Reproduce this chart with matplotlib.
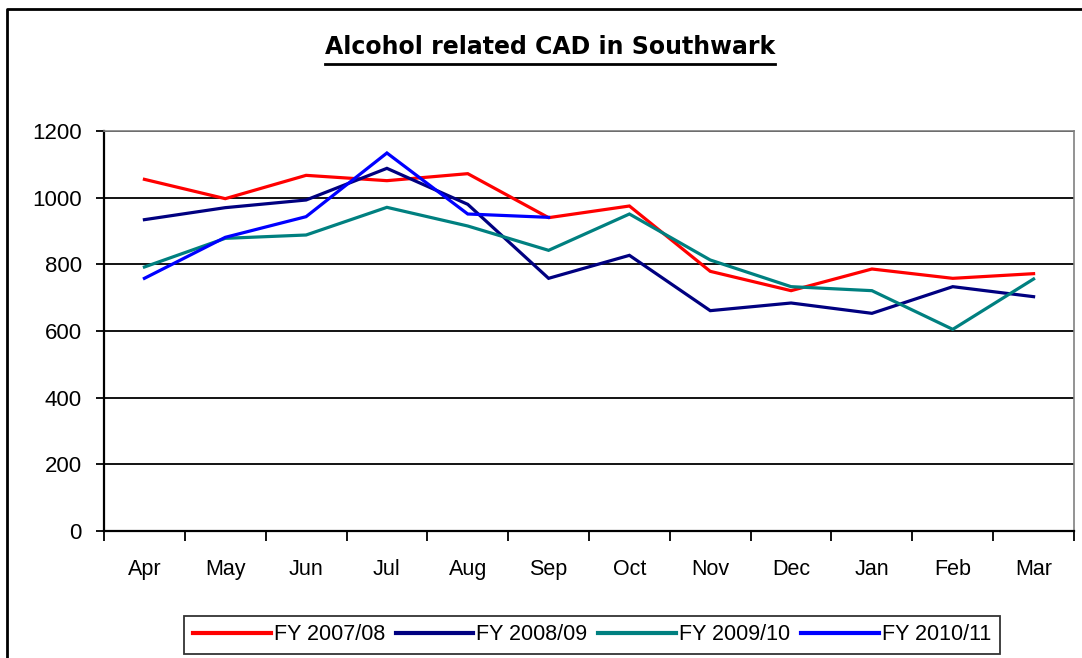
import numpy as np
import matplotlib.pyplot as plt
from matplotlib.lines import Line2D

months = ['Apr', 'May', 'Jun', 'Jul', 'Aug', 'Sep', 'Oct', 'Nov', 'Dec', 'Jan', 'Feb', 'Mar']
fy_0708 = [1055, 997, 1067, 1051, 1072, 940, 975, 779, 721, 786, 758, 772]
fy_0809 = [934, 970, 993, 1088, 980, 758, 827, 661, 684, 653, 733, 703]
fy_0910 = [792, 878, 888, 971, 915, 842, 951, 813, 733, 721, 605, 756]
fy_1011 = [758, 881, 943, 1134, 951, 941]
series = [('FY 2007/08', fy_0708, '#FF0000'),
          ('FY 2008/09', fy_0809, '#000080'),
          ('FY 2009/10', fy_0910, '#008080'),
          ('FY 2010/11', fy_1011, '#0000FF')]

plt.rcParams['font.family'] = ['Liberation Sans', 'DejaVu Sans']

W, H = 1082, 658
fig = plt.figure(figsize=(W / 100, H / 100), dpi=100)
fig.patch.set_facecolor('white')

# axes placed in pixel terms
left, right, top, bottom = 104, 1074, 131, 531
ax = fig.add_axes([left / W, 1 - bottom / H, (right - left) / W, (bottom - top) / H])

x = np.arange(len(months))
for name, vals, col in series:
    ax.plot(x[:len(vals)], vals, color=col, lw=2.3, label=name, solid_joinstyle='miter')

ax.set_ylim(0, 1200)
ax.set_xlim(-0.5, len(months) - 0.5)
ax.set_yticks(np.arange(0, 1201, 200))
ax.yaxis.grid(True, color='black', lw=1.3)
ax.set_axisbelow(True)

ax.set_xticks(x)
ax.set_xticklabels(months, fontsize=15.5)
ax.set_xticks(np.arange(-0.5, len(months)), minor=True)
ax.tick_params(axis='x', which='major', length=0, pad=20)
ax.tick_params(axis='x', which='minor', length=7, width=1.3, direction='out')
ax.tick_params(axis='y', length=6, width=1.3, labelsize=16, pad=10)

for s in ['left', 'bottom']:
    ax.spines[s].set_color('black')
    ax.spines[s].set_linewidth(1.6)
for s in ['top', 'right']:
    ax.spines[s].set_color('#808080')
    ax.spines[s].set_linewidth(1.2)

# legend along the bottom
leg = fig.legend(loc='center', bbox_to_anchor=(592 / W, 1 - 635 / H), ncol=4,
                 fontsize=15.5, frameon=True, fancybox=False, edgecolor='black',
                 handlelength=3.6, handletextpad=0.15, columnspacing=0.5,
                 borderpad=0.4)
leg.get_frame().set_linewidth(1.3)
for h in leg.get_lines():
    h.set_linewidth(3)

# underlined bold title
t = fig.text(550 / W, 1 - 47 / H, 'Alcohol related CAD in Southwark', ha='center',
             va='center', fontsize=17, fontweight='bold', family='DejaVu Sans')
fig.canvas.draw()
bb = t.get_window_extent()
uy = 1 - 64 / H
fig.add_artist(Line2D([bb.x0 / W, bb.x1 / W], [uy, uy], color='black', lw=2))

# outer chart border
fig.add_artist(Line2D([6.5 / W, 6.5 / W, 1.0], [0, 1 - 9 / H, 1 - 9 / H],
                      color='black', lw=2))

fig.savefig('out.png', dpi=100)
